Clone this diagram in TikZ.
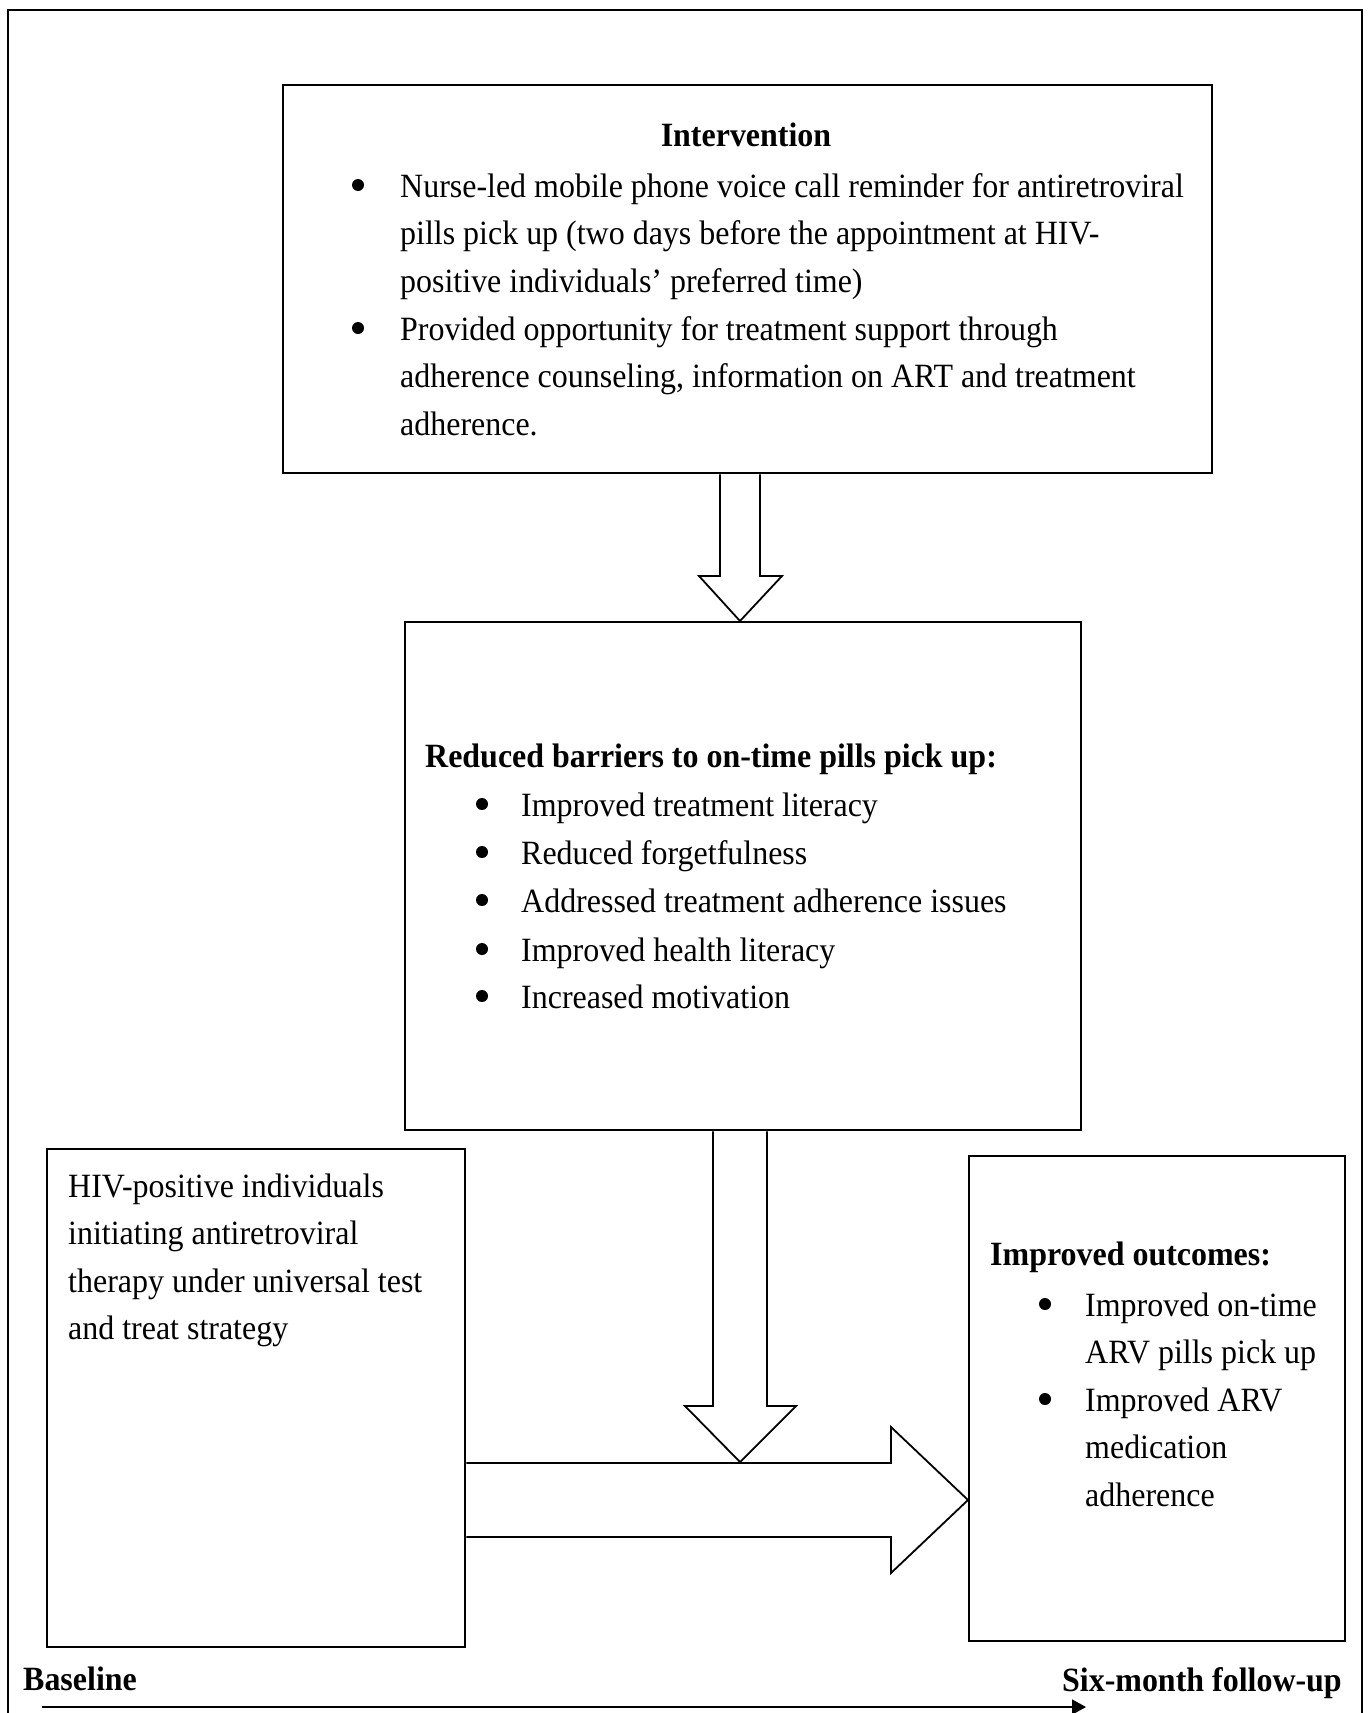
\documentclass[tikz,border=0pt]{standalone}
\usepackage{fontspec}
\setmainfont[FakeStretch=0.94]{Liberation Serif}
\usetikzlibrary{calc,arrows.meta}
\newcommand{\mylines}[1]{\begin{tabular}[t]{@{}l@{}}#1\end{tabular}}
\begin{document}
\begin{tikzpicture}[x=1pt,y=-1pt,
  box/.style={draw,line width=2.4pt,anchor=north west,inner sep=0pt},
  blockarrow/.style={draw,line width=1.8pt,fill=white,line join=miter},
  txt/.style={anchor=base west,inner sep=0pt,font=\fontsize{34}{47.5}\selectfont},
  btxt/.style={txt,font=\fontsize{34}{47.5}\selectfont\bfseries},
  bul/.style={circle,fill,inner sep=0pt,minimum size=12pt}]
\useasboundingbox (0,0) rectangle (1368,1713);
% outer frame (bottom edge cut off)
\draw[line width=2.4pt] (8,1730) -- (8,10) -- (1362,10) -- (1362,1730);
% boxes
\node[box,minimum width=929pt,minimum height=388pt] (top) at (282,84) {};
\node[box,minimum width=676pt,minimum height=508pt] (mid) at (404,621) {};
\node[box,minimum width=418pt,minimum height=498pt] (left) at (46,1148) {};
\node[box,minimum width=376pt,minimum height=485pt] (right) at (968,1155) {};
% block arrows
\draw[blockarrow] (720,0 |- top.south) -- (720,576) -- (699,576) -- (740,0 |- mid.north)
  -- (782,576) -- (760,576) -- (760,0 |- top.south);
\draw[blockarrow] (left.east |- 0,1463) -- (891,1463) -- (891,1427) -- (right.west |- 0,1500)
  -- (891,1573) -- (891,1537) -- (left.east |- 0,1537);
\draw[blockarrow] (713,0 |- mid.south) -- (713,1406) -- (685,1406) -- (740,1462)
  -- (796,1406) -- (767,1406) -- (767,0 |- mid.south);
% top box text
\node[btxt,anchor=base] (t0) at (746,146) {Intervention};
\node[bul] (tb1) at (358,185) {};
\node[txt] (t1) at (400,197) {\mylines{Nurse-led mobile phone voice call reminder for antiretroviral\\pills pick up (two days before the appointment at HIV-\\positive individuals’ preferred time)}};
\node[bul] (tb2) at (358,328) {};
\node[txt] (t2) at (400,340) {\mylines{Provided opportunity for treatment support through\\adherence counseling, information on ART and treatment\\adherence.}};
% middle box text
\node[btxt] (m0) at (425,767) {Reduced barriers to on-time pills pick up:};
\foreach \y/\t [count=\i] in {816/Improved treatment literacy,864/Reduced forgetfulness,912/Addressed treatment adherence issues,961/Improved health literacy,1008/Increased motivation}{
  \node[bul] (mb\i) at (482,\y-12) {};
  \node[txt] (m\i) at (521,\y) {\t};
}
% left box text
\node[txt] (l1) at (68,1197) {\mylines{HIV-positive individuals\\initiating antiretroviral\\therapy under universal test\\and treat strategy}};
% right box text
\node[btxt] (r0) at (990,1265) {Improved outcomes:};
\node[bul] (rb1) at (1045,1304) {};
\node[txt] (r1) at (1085,1316) {\mylines{Improved on-time\\ARV pills pick up}};
\node[bul] (rb2) at (1045,1399) {};
\node[txt] (r2) at (1085,1411) {\mylines{Improved ARV\\medication\\adherence}};
% timeline
\node[btxt] (base) at (23,1690) {Baseline};
\node[btxt,anchor=base east] (follow) at (1342,1691) {Six-month follow-up};
\coordinate (tl0) at (42,1707);
\coordinate (tl1) at (1086,1707);
\draw[line width=1.6pt,-{Triangle[length=14pt,width=15pt]}] (tl0) -- (tl1);
\end{tikzpicture}
\end{document}
